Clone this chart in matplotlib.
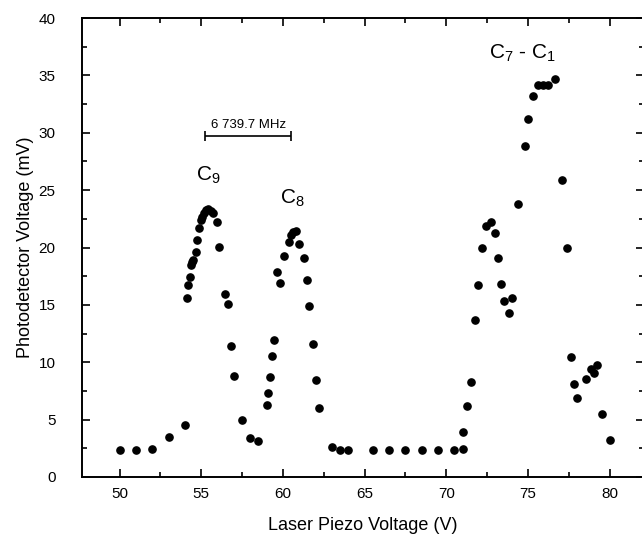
import matplotlib.pyplot as plt
from matplotlib.ticker import MultipleLocator

plt.rcParams["font.family"] = ["Liberation Sans", "DejaVu Sans"]
plt.rcParams["mathtext.fontset"] = "custom"
plt.rcParams["mathtext.rm"] = "Liberation Sans"
plt.rcParams["mathtext.it"] = "Liberation Sans"

# laser piezo voltage (V) and photodetector voltage (mV)
piezo_v = [
    50.0, 51.0, 52.0, 53.0, 54.0, 54.15, 54.2, 54.3, 54.4, 54.46, 54.5, 54.66,
    54.77, 54.87, 54.97, 55.07, 55.17, 55.28, 55.42, 55.58, 55.75, 55.95, 56.1,
    56.44, 56.63, 56.8, 57.0, 57.5, 58.0, 58.5,
    59.0, 59.1, 59.2, 59.33, 59.43, 59.65, 59.83, 60.06, 60.39, 60.49, 60.6,
    60.8, 61.0, 61.27, 61.45, 61.6, 61.84, 62.02, 62.23,
    63.03, 63.5, 64.0, 65.5, 66.5, 67.5, 68.5, 69.5, 70.5, 71.0,
    71.0, 71.25, 71.52, 71.74, 71.93, 72.17, 72.45, 72.74, 72.96, 73.15,
    73.34, 73.56, 73.83, 74.05, 74.4, 74.79, 75.01, 75.32, 75.63, 75.93,
    76.24, 76.65, 77.08, 77.42, 77.63, 77.83, 78.02, 78.53, 78.85, 79.02,
    79.22, 79.53, 80.02,
]
signal_mv = [
    2.32, 2.35, 2.4, 3.5, 4.5, 15.6, 16.75, 17.4, 18.5, 18.75, 18.9, 19.6,
    20.7, 21.66, 22.4, 22.7, 22.97, 23.26, 23.4, 23.2, 23.0, 22.2, 20.06,
    15.94, 15.1, 11.4, 8.77, 5.0, 3.4, 3.16,
    6.27, 7.3, 8.68, 10.57, 11.9, 17.9, 16.9, 19.27, 20.5, 21.08, 21.37,
    21.4, 20.35, 19.06, 17.16, 14.9, 11.6, 8.45, 6.04,
    2.64, 2.38, 2.32, 2.32, 2.32, 2.32, 2.32, 2.32, 2.35, 2.4,
    3.95, 6.18, 8.25, 13.68, 16.75, 20.0, 21.86, 22.24, 21.28, 19.13,
    16.84, 15.36, 14.26, 15.6, 23.78, 28.83, 31.24, 33.2, 34.15, 34.15,
    34.15, 34.7, 25.87, 19.97, 10.42, 8.13, 6.88, 8.5, 9.43, 9.06,
    9.76, 5.46, 3.22,
]

peak_labels = ["C$_9$", "C$_8$", "C$_7$ - C$_1$"]
peak_x = [55.45, 60.6, 74.7]
peak_y = [26.3, 24.3, 36.9]

fsr_start, fsr_end, fsr_y = 55.24, 60.5, 29.7
fsr_label = "6 739.7 MHz"

fig = plt.figure(figsize=(6.42, 5.45), dpi=100)
ax = fig.add_axes([0.1277, 0.1248, 0.8753, 0.842])

ax.plot(piezo_v, signal_mv, "o", color="black", ms=5.2, mec="black")

ax.set_xlim(47.7, 82.1)
ax.set_ylim(0, 40)
ax.xaxis.set_major_locator(MultipleLocator(5))
ax.xaxis.set_minor_locator(MultipleLocator(2.5))
ax.yaxis.set_major_locator(MultipleLocator(5))
ax.yaxis.set_minor_locator(MultipleLocator(2.5))
ax.tick_params(which="both", direction="in", top=True, right=True,
               labelsize=11, width=1.2)
ax.tick_params(which="major", length=6)
ax.tick_params(which="minor", length=3.5)
ax.tick_params(axis="x", pad=7)
ax.tick_params(axis="y", pad=19)
for s in ax.spines.values():
    s.set_linewidth(1.4)
ax.spines["right"].set_visible(False)

ax.set_xlabel("Laser Piezo Voltage (V)", fontsize=13, labelpad=12)
ax.set_ylabel("Photodetector Voltage (mV)", fontsize=13, labelpad=3)

for lab, x, y in zip(peak_labels, peak_x, peak_y):
    ax.text(x, y, lab, ha="center", va="center", fontsize=15)

# free spectral range scale bar
ax.errorbar([(fsr_start + fsr_end) / 2], [fsr_y],
            xerr=[(fsr_end - fsr_start) / 2], fmt="none",
            ecolor="black", elinewidth=1.2, capsize=3.5, capthick=1.2)
ax.text((fsr_start + fsr_end) / 2, fsr_y + 0.45, fsr_label,
        ha="center", va="bottom", fontsize=9.5)

fig.savefig("out.png", dpi=100)
